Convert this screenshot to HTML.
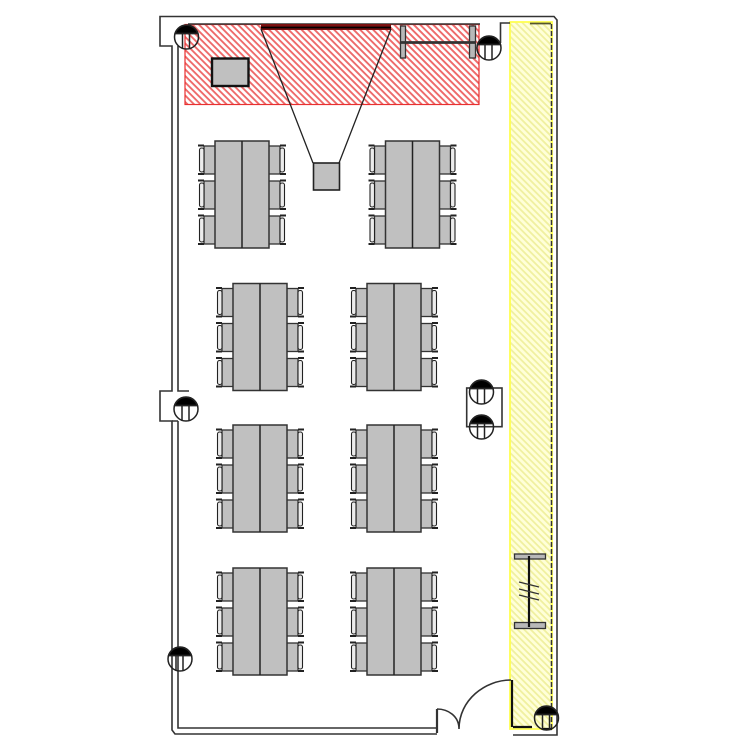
<!DOCTYPE html>
<html><head><meta charset="utf-8"><style>html,body{margin:0;padding:0;background:#fff}svg{display:block;filter:blur(.35px)}</style></head><body>
<svg width="750" height="750" viewBox="0 0 750 750" xmlns="http://www.w3.org/2000/svg">
<defs>
<pattern id="r" width="4.6" height="4.6" patternUnits="userSpaceOnUse" patternTransform="rotate(45)"><rect width="4.6" height="4.6" fill="#fff"/><rect width="4.6" height="1.900" fill="#ee6a6a"/></pattern>
<pattern id="y" width="4.6" height="4.6" patternUnits="userSpaceOnUse" patternTransform="rotate(45)"><rect width="4.6" height="4.6" fill="#ffffd8"/><rect width="4.6" height="1.800" fill="#f0f0a0"/></pattern>
<g id="cam" fill="none" stroke="#222" stroke-width="1.500">
<path d="M-11.400-3.500A12 12 0 0 1 11.400-3.500Z" fill="#000"/>
<circle r="12" fill="none"/>
<path d="M-4-4V11M3-4V11.600M-11-3.500H11"/>
</g>
<g id="cl" fill="none" stroke="#222">
<rect x="6" y="1" width="12" height="28" fill="#c0c0c0" stroke="#333" stroke-width="1.300"/>
<path d="M0 .5H6M0 29H6" stroke-width="2"/>
<rect x="1.500" y="3" width="4.500" height="24" rx="2" fill="#ececec" stroke-width="1.100"/>
</g>
<g id="t">
<use href="#cl" x="-17" y="4"/><use href="#cl" x="-17" y="39"/><use href="#cl" x="-17" y="74"/>
<use href="#cl" transform="matrix(-1 0 0 1 71 4)"/><use href="#cl" transform="matrix(-1 0 0 1 71 39)"/><use href="#cl" transform="matrix(-1 0 0 1 71 74)"/>
<rect x="0" y="0" width="54" height="107" fill="#c0c0c0" stroke="#333" stroke-width="1.500"/>
<path d="M27 0V107" stroke="#222" stroke-width="1.500"/>
</g>
</defs>
<!-- zones -->
<rect x="185" y="24.500" width="294" height="80" fill="url(#r)" stroke="#e83030" stroke-width="1.200"/>
<rect x="510" y="22" width="42" height="707" fill="url(#y)" stroke="#ffff50" stroke-width="1.800"/>
<!-- walls -->
<g fill="none" stroke="#333" stroke-width="1.600">
<path d="M172 640V730L175 734H437M513 735H557V20L554 16.500H160V46H172V391H160V421H172V640"/>
<path d="M178 640V728H437M178 46V391H189M178 421V640M178 421H172"/>
<path d="M188 24H480"/>
<path d="M500.500 43V23H510"/>
<path d="M437 709V733" stroke-width="2.200"/>
<path d="M437 709C448 709 459 716 459 729C459 700 485 680 511 680"/>
<rect x="466.700" y="388" width="35.300" height="38.700"/>
</g>
<path d="M551.500 24V728" stroke="#333" stroke-width="1.500" stroke-dasharray="5 2" fill="none"/>
<path d="M530 23.500H551" stroke="#555530" stroke-width="1.800"/>
<path d="M512 680V727M513 727H532M543 729H552" stroke="#111" stroke-width="2.200" fill="none"/>
<!-- screen and projector -->
<rect x="261" y="24" width="130" height="6" fill="#7a1010"/>
<path d="M261 27.500H391" stroke="#000" stroke-width="1.800"/>
<path d="M261 29L313 163M391 29L339 163" stroke="#222" stroke-width="1.300" fill="none"/>
<rect x="212" y="58.500" width="36.500" height="27.500" fill="#c0c0c0" stroke="#111" stroke-width="2.400"/>
<rect x="313.500" y="163" width="26" height="27" fill="#c0c0c0" stroke="#222" stroke-width="1.600"/>
<!-- rack red -->
<g fill="#b8b8b8" stroke="#333" stroke-width="1.300">
<rect x="400.500" y="26" width="5" height="32"/>
<rect x="469.500" y="26" width="6" height="32"/>
</g>
<path d="M400 42.500H476" stroke="#333" stroke-width="2.800"/>
<!-- rack yellow -->
<g fill="#b8b8b8" stroke="#333" stroke-width="1.300">
<rect x="514.500" y="554" width="31" height="5"/>
<rect x="514.500" y="622.500" width="31" height="6"/>
</g>
<path d="M529 556V627" stroke="#111" stroke-width="2.200"/>
<path d="M519 582L539 587M519 589L539 594M519 595L539 600" stroke="#333" stroke-width="1.300"/>
<!-- tables -->
<use href="#t" x="215" y="141"/><use href="#t" x="385.500" y="141"/>
<use href="#t" x="233" y="283.500"/><use href="#t" x="367" y="283.500"/>
<use href="#t" x="233" y="425"/><use href="#t" x="367" y="425"/>
<use href="#t" x="233" y="568"/><use href="#t" x="367" y="568"/>
<!-- fixtures -->
<use href="#cam" x="186.500" y="37"/><use href="#cam" x="489" y="48"/><use href="#cam" x="186" y="409"/>
<use href="#cam" x="180" y="659"/><use href="#cam" x="546.500" y="718"/>
<use href="#cam" x="481.500" y="392"/><use href="#cam" x="481.500" y="427"/>
</svg>
</body></html>
